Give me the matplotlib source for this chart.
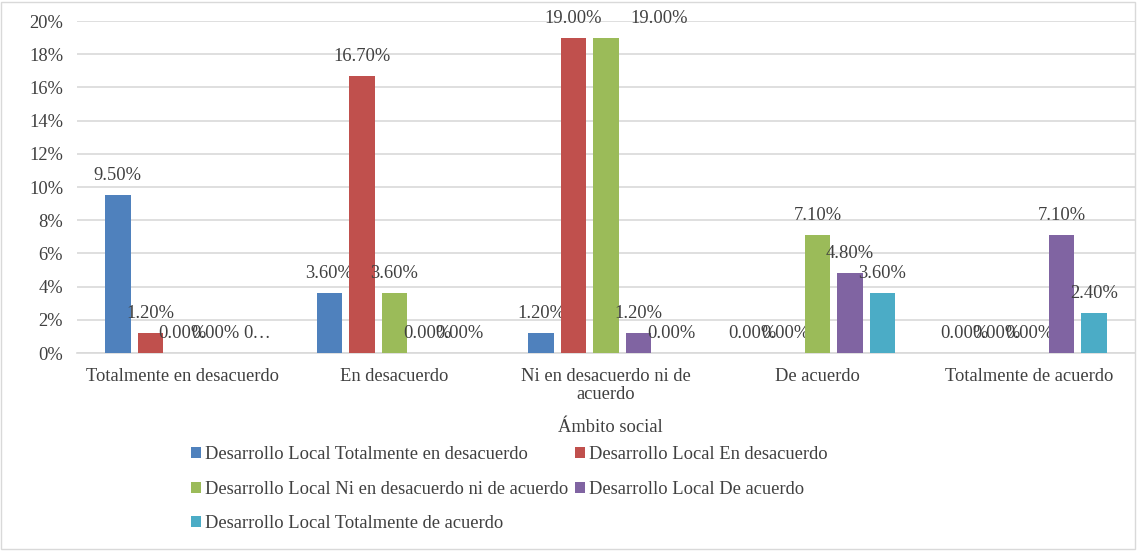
import numpy as np
import matplotlib.pyplot as plt
from matplotlib.patches import Rectangle

plt.rcParams['font.family'] = ['Liberation Serif', 'DejaVu Serif']

categorias = ['Totalmente en desacuerdo', 'En desacuerdo', 'Ni en desacuerdo ni de\nacuerdo',
              'De acuerdo', 'Totalmente de acuerdo']
series = ['Desarrollo Local Totalmente en desacuerdo', 'Desarrollo Local En desacuerdo',
          'Desarrollo Local Ni en desacuerdo ni de acuerdo', 'Desarrollo Local De acuerdo',
          'Desarrollo Local Totalmente de acuerdo']
tot_desacuerdo = [9.5, 3.6, 1.2, 0.0, 0.0]
en_desacuerdo = [1.2, 16.7, 19.0, 0.0, 0.0]
ni_ni = [0.0, 3.6, 19.0, 7.1, 0.0]
de_acuerdo = [0.0, 0.0, 1.2, 4.8, 7.1]
tot_acuerdo = [0.0, 0.0, 0.0, 3.6, 2.4]
valores = [tot_desacuerdo, en_desacuerdo, ni_ni, de_acuerdo, tot_acuerdo]
colores = ['#4F81BD', '#C0504D', '#9BBB59', '#8064A2', '#4BACC6']
gris = '#404040'
fs = 13.3

fig = plt.figure(figsize=(11.42, 5.52), dpi=100)
ax = fig.add_axes([77 / 1142, 1 - 353 / 552, (1135 - 77) / 1142, 332 / 552])

x = np.arange(len(categorias))
paso = 0.1535
ancho = 0.12
barras = []
for i, (vals, col) in enumerate(zip(valores, colores)):
    pos = x + (i - 2) * paso
    b = ax.bar(pos, vals, width=ancho, color=col, label=series[i], zorder=3)
    barras.append(b)
    for j, v in enumerate(vals):
        txt = '%.2f%%' % v
        dx = 0
        if i == 4 and j == 0:
            txt = '0…'
            dx = 9
        if i == 2 and j == 2:
            dx = 53
        ax.annotate(txt, (pos[j], v), xytext=(dx, 11), textcoords='offset pixels',
                    ha='center', va='bottom', fontsize=fs, color=gris)

ax.set_xlim(-0.5, 4.5)
ax.set_ylim(0, 20)
ax.set_yticks(np.arange(0, 21, 2))
ax.set_yticklabels(['%d%%' % t for t in range(0, 21, 2)], fontsize=fs, color=gris)
ax.set_xticks(x)
ax.set_xticklabels(categorias, fontsize=fs, color=gris, linespacing=1.05)
ax.tick_params(axis='y', length=0, pad=10)
ax.tick_params(axis='x', length=0, pad=11)
ax.yaxis.grid(True, color='#d9d9d9', linewidth=1.2, zorder=0)
for s in ['top', 'right', 'left']:
    ax.spines[s].set_visible(False)
ax.spines['bottom'].set_color('#d9d9d9')
ax.spines['bottom'].set_linewidth(1.2)

fig.text(610 / 1142, 1 - 427 / 552, 'Ámbito social', ha='center', va='center', fontsize=fs, color=gris)

h = [barras[k] for k in [0, 2, 4, 1, 3]]
l = [series[k] for k in [0, 2, 4, 1, 3]]
fig.legend(h, l, loc='upper left', bbox_to_anchor=(182 / 1142, 1 - 437 / 552), ncol=2, frameon=False,
           fontsize=fs, handlelength=0.55, handleheight=0.55, handletextpad=0.2, columnspacing=0.35,
           labelspacing=0.95, borderpad=0, labelcolor=gris)

fig.patches.append(Rectangle((0.001, 0.006), 0.993, 0.99, transform=fig.transFigure, fill=False,
                             edgecolor='#d9d9d9', linewidth=1))

fig.savefig('out.png', dpi=100)
